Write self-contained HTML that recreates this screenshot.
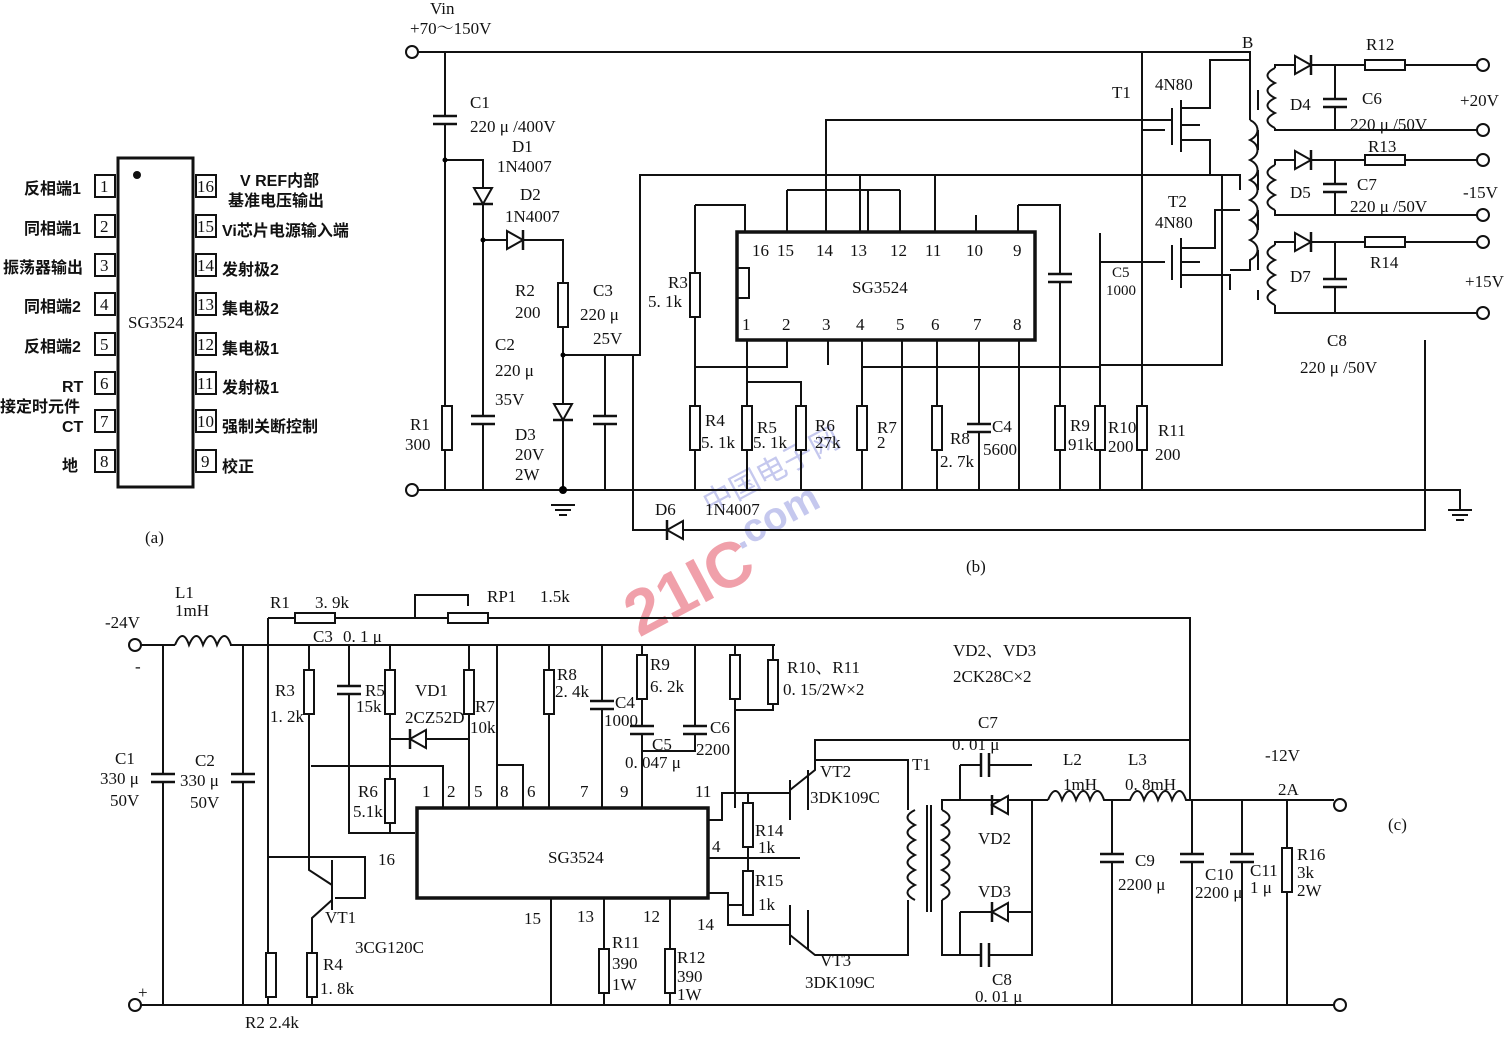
<!DOCTYPE html>
<html><head><meta charset="utf-8"><style>
html,body{margin:0;padding:0;background:#fff}
svg{display:block}
text{font-family:"Liberation Serif","Noto Serif CJK SC",serif;font-size:17px;fill:#111}
.c{font-family:"Liberation Sans","Noto Sans CJK SC",sans-serif;font-size:16px;font-weight:bold}
</style></head><body>
<svg width="1507" height="1046" viewBox="0 0 1507 1046" xmlns="http://www.w3.org/2000/svg">
<defs>
<g id="rv"><rect x="-5" y="-22" width="10" height="44" fill="#fff" stroke="#111" stroke-width="2"/></g>
<g id="rh"><rect x="-20" y="-5" width="40" height="10" fill="#fff" stroke="#111" stroke-width="2"/></g>
<g id="cv"><rect x="-12" y="-5" width="24" height="10" fill="#fff" stroke="none"/><line x1="-12" y1="-4" x2="12" y2="-4" stroke="#111" stroke-width="2.5"/><line x1="-12" y1="4" x2="12" y2="4" stroke="#111" stroke-width="2.5"/></g>
<g id="ch"><rect x="-5" y="-12" width="10" height="24" fill="#fff"/><line x1="-4" y1="-12" x2="-4" y2="12" stroke="#111" stroke-width="2.5"/><line x1="4" y1="-12" x2="4" y2="12" stroke="#111" stroke-width="2.5"/></g>
<g id="dd"><polygon points="-9,-8 9,-8 0,8" fill="#fff" stroke="#111" stroke-width="2"/><line x1="-10" y1="8" x2="10" y2="8" stroke="#111" stroke-width="2.5"/></g>
<g id="dr"><polygon points="-8,-9 -8,9 8,0" fill="#fff" stroke="#111" stroke-width="2"/><line x1="8" y1="-10" x2="8" y2="10" stroke="#111" stroke-width="2.5"/></g>
<g id="dl"><polygon points="8,-9 8,9 -8,0" fill="#fff" stroke="#111" stroke-width="2"/><line x1="-8" y1="-10" x2="-8" y2="10" stroke="#111" stroke-width="2.5"/></g>
<g id="gnd"><line x1="-12" y1="0" x2="12" y2="0" stroke="#111" stroke-width="2"/><line x1="-8" y1="5" x2="8" y2="5" stroke="#111" stroke-width="2"/><line x1="-4" y1="10" x2="4" y2="10" stroke="#111" stroke-width="2"/></g>
</defs>
<rect width="1507" height="1046" fill="#fff"/>

<!-- watermark -->
<g transform="rotate(-28 700 560)">
<text x="610" y="600" style="font-size:64px;font-weight:bold;fill:#f0a0aa;font-family:'Liberation Sans',sans-serif">21IC</text>
<text x="740" y="570" style="font-size:40px;font-weight:bold;fill:#c5c8ee;font-family:'Liberation Sans',sans-serif">.com</text>
<text x="730" y="525" style="font-size:30px;fill:#c5c8ee;font-family:'Noto Sans CJK SC',sans-serif">中国电子网</text>
</g>

<!-- (a) -->
<g stroke="#111" stroke-width="2" fill="none">
<rect x="118" y="158" width="75" height="329" stroke-width="3"/>
<rect x="95" y="175" width="20" height="22"/><rect x="95" y="215" width="20" height="22"/><rect x="95" y="254" width="20" height="22"/><rect x="95" y="293" width="20" height="22"/>
<rect x="95" y="333" width="20" height="22"/><rect x="95" y="372" width="20" height="22"/><rect x="95" y="410" width="20" height="22"/><rect x="95" y="450" width="20" height="22"/>
<rect x="196" y="175" width="20" height="22"/><rect x="196" y="215" width="20" height="22"/><rect x="196" y="254" width="20" height="22"/><rect x="196" y="293" width="20" height="22"/>
<rect x="196" y="333" width="20" height="22"/><rect x="196" y="372" width="20" height="22"/><rect x="196" y="410" width="20" height="22"/><rect x="196" y="450" width="20" height="22"/>
</g>
<circle cx="137" cy="175" r="4" fill="#111"/>
<g>
<text x="100" y="192">1</text><text x="100" y="232">2</text><text x="100" y="271">3</text><text x="100" y="310">4</text><text x="100" y="350">5</text><text x="100" y="389">6</text><text x="100" y="427">7</text><text x="100" y="467">8</text>
<text x="197" y="192">16</text><text x="197" y="232">15</text><text x="197" y="271">14</text><text x="197" y="310">13</text><text x="197" y="350">12</text><text x="197" y="389">11</text><text x="197" y="427">10</text><text x="201" y="467">9</text>
</g>
<text x="128" y="328">SG3524</text>
<text class="c" x="24" y="194">反相端1</text><text class="c" x="24" y="234">同相端1</text><text class="c" x="3" y="273">振荡器输出</text><text class="c" x="24" y="312">同相端2</text><text class="c" x="24" y="352">反相端2</text>
<text class="c" x="62" y="392">RT</text><text class="c" x="0" y="412">接定时元件</text><text class="c" x="62" y="432">CT</text><text class="c" x="62" y="471">地</text>
<text class="c" x="240" y="186">V REF内部</text><text class="c" x="228" y="206">基准电压输出</text><text class="c" x="222" y="236">Vi芯片电源输入端</text><text class="c" x="222" y="275">发射极2</text>
<text class="c" x="222" y="314">集电极2</text><text class="c" x="222" y="354">集电极1</text><text class="c" x="222" y="393">发射极1</text><text class="c" x="222" y="432">强制关断控制</text><text class="c" x="222" y="472">校正</text>
<text x="145" y="543">(a)</text>

<!-- (b) -->
<g stroke="#111" stroke-width="2" fill="none">
<circle cx="412" cy="52" r="6"/><circle cx="412" cy="490" r="6"/>
<path d="M418 52H1250V120"/>
<path d="M418 490H1460V510"/>
<path d="M445 52V490M445 160H483V240M483 240V490M483 240H563V490M563 355H640V175H1222V365H1100V233M605 355V490"/>
<path d="M633 355V530H1425V340"/>
<rect x="737" y="232" width="298" height="108" stroke-width="3.5"/>
<rect x="737" y="268" width="12" height="30"/>
<path d="M695 205H745V232M695 205V490M787 190V232M787 190H868V232M826 232V120H1172M860 175V232M900 190V232M900 190H868M1018 205H1060V490M1018 205V232M976 215V232M935 175V232"/>
<path d="M747 340V490M747 382H801V490M787 340V367H695M828 340V365M862 340V490M862 367H1100M902 340V490M937 340V490M979 340V490M1019 340V490M1100 365V490M1142 52V490M1060 270V287"/>
<path d="M1100 262H1165M1142 130H1165"/>
<path d="M1172 108V145M1181 100V152M1181 108H1210V60H1250M1181 140H1210V175H1240V190M1181 125H1200"/>
<path d="M1172 245V280M1181 238V288M1181 248H1215V210H1240M1181 275H1230V290M1181 262H1200"/>
<path d="M1250 120c10 5 10 15 0 20c10 5 10 15 0 20c10 5 10 15 0 20c10 5 10 15 0 20c10 5 10 15 0 20c10 5 10 15 0 20c10 5 10 15 0 20V270H1230"/>
<path d="M1258 90V110M1258 130V150M1258 170V190M1258 210V230M1258 250V270M1258 290V300"/>
<path d="M1275 68c-10 5-10 10 0 15c-10 5-10 10 0 15c-10 5-10 10 0 15c-10 5-10 10 0 15M1275 68V65H1483M1275 128V130H1483"/>
<path d="M1275 165c-10 5-10 10 0 15c-10 5-10 10 0 15c-10 5-10 10 0 15M1275 165V160H1483M1275 210V215H1483"/>
<path d="M1275 245c-10 5-10 10 0 15c-10 5-10 10 0 15c-10 5-10 10 0 15c-10 5-10 10 0 15M1275 245V242H1483M1275 305V313H1483"/>
<path d="M1335 65V130M1335 160V215M1335 242V313"/>
<circle cx="1483" cy="65" r="6" fill="#fff"/><circle cx="1483" cy="130" r="6" fill="#fff"/><circle cx="1483" cy="160" r="6" fill="#fff"/><circle cx="1483" cy="215" r="6" fill="#fff"/><circle cx="1483" cy="242" r="6" fill="#fff"/><circle cx="1483" cy="313" r="6" fill="#fff"/>
</g>
<use href="#cv" x="445" y="120"/><use href="#rv" x="447" y="428"/><use href="#dd" x="483" y="196"/><use href="#dr" x="515" y="240"/>
<use href="#rv" x="563" y="305"/><use href="#cv" x="483" y="420"/><use href="#cv" x="605" y="420"/><use href="#dd" x="563" y="412"/>
<use href="#gnd" x="563" y="505"/><use href="#gnd" x="1460" y="510"/>
<use href="#rv" x="695" y="295"/><use href="#rv" x="695" y="428"/><use href="#rv" x="747" y="428"/><use href="#rv" x="801" y="428"/><use href="#rv" x="862" y="428"/>
<use href="#rv" x="937" y="428"/><use href="#cv" x="979" y="428"/><use href="#cv" x="1060" y="278"/><use href="#rv" x="1060" y="428"/><use href="#rv" x="1100" y="428"/><use href="#rv" x="1142" y="428"/>
<use href="#dl" x="675" y="530"/>
<use href="#dr" x="1303" y="65"/><use href="#rh" x="1385" y="65"/><use href="#cv" x="1335" y="103"/>
<use href="#dr" x="1303" y="160"/><use href="#rh" x="1385" y="160"/><use href="#cv" x="1335" y="188"/>
<use href="#dr" x="1303" y="242"/><use href="#rh" x="1385" y="242"/><use href="#cv" x="1335" y="283"/>
<circle cx="445" cy="160" r="2.5"/><circle cx="483" cy="240" r="2.5"/><circle cx="563" cy="355" r="2.5"/><circle cx="563" cy="490" r="4"/>
<g>
<text x="752" y="256">16</text><text x="777" y="256">15</text><text x="816" y="256">14</text><text x="850" y="256">13</text><text x="890" y="256">12</text><text x="925" y="256">11</text><text x="966" y="256">10</text><text x="1013" y="256">9</text>
<text x="742" y="330">1</text><text x="782" y="330">2</text><text x="822" y="330">3</text><text x="856" y="330">4</text><text x="896" y="330">5</text><text x="931" y="330">6</text><text x="973" y="330">7</text><text x="1013" y="330">8</text>
<text x="852" y="293">SG3524</text>
</g>
<text x="430" y="14">Vin</text><text x="410" y="34">+70～150V</text>
<text x="470" y="108">C1</text><text x="470" y="132">220 μ /400V</text>
<text x="512" y="152">D1</text><text x="497" y="172">1N4007</text><text x="520" y="200">D2</text><text x="505" y="222">1N4007</text>
<text x="515" y="296">R2</text><text x="515" y="318">200</text><text x="593" y="296">C3</text><text x="580" y="320">220 μ</text><text x="593" y="344">25V</text>
<text x="495" y="350">C2</text><text x="495" y="376">220 μ</text><text x="495" y="405">35V</text>
<text x="515" y="440">D3</text><text x="515" y="460">20V</text><text x="515" y="480">2W</text>
<text x="410" y="430">R1</text><text x="405" y="450">300</text>
<text x="668" y="288">R3</text><text x="648" y="307">5. 1k</text>
<text x="705" y="426">R4</text><text x="701" y="448">5. 1k</text><text x="757" y="433">R5</text><text x="753" y="448">5. 1k</text><text x="815" y="431">R6</text><text x="815" y="448">27k</text>
<text x="877" y="433">R7</text><text x="877" y="448">2</text><text x="950" y="444">R8</text><text x="940" y="467">2. 7k</text><text x="992" y="432">C4</text><text x="983" y="455">5600</text>
<text x="1070" y="431">R9</text><text x="1068" y="450">91k</text><text x="1108" y="433">R10</text><text x="1108" y="452">200</text><text x="1158" y="436">R11</text><text x="1155" y="460">200</text>
<text x="1112" y="277" style="font-size:15px">C5</text><text x="1106" y="295" style="font-size:15px">1000</text>
<text x="1112" y="98">T1</text><text x="1155" y="90">4N80</text><text x="1168" y="207">T2</text><text x="1155" y="228">4N80</text><text x="1242" y="48">B</text>
<text x="1366" y="50">R12</text><text x="1290" y="110">D4</text><text x="1362" y="104">C6</text><text x="1350" y="130">220 μ /50V</text><text x="1460" y="106">+20V</text>
<text x="1368" y="152">R13</text><text x="1290" y="198">D5</text><text x="1357" y="190">C7</text><text x="1350" y="212">220 μ /50V</text><text x="1463" y="198">-15V</text>
<text x="1370" y="268">R14</text><text x="1290" y="282">D7</text><text x="1465" y="287">+15V</text><text x="1327" y="346">C8</text><text x="1300" y="373">220 μ /50V</text>
<text x="655" y="515">D6</text><text x="705" y="515">1N4007</text><text x="966" y="572">(b)</text>

<!-- (c) -->
<g stroke="#111" stroke-width="2" fill="none">
<circle cx="135" cy="645" r="6"/><circle cx="135" cy="1005" r="6"/>
<path d="M141 645H175M230 645H775M175 645c5-12 10-12 14 0c5-12 10-12 14 0c5-12 10-12 14 0c5-12 10-12 14 0"/>
<path d="M268 618H1190V800M268 618V1005M415 618V595H468V606"/>
<path d="M141 1005H1334"/><circle cx="1340" cy="1005" r="6"/>
<path d="M163 645V1005M243 645V1005"/>
<path d="M309 645V870L332 885M332 900L312 918V1005M332 860V910M268 857H365V898H335"/>
<path d="M349 645V833H415M390 645V833M390 739H469M469 645V808M497 645V808M497 765H523V808M311 766H443V808M549 645V808M602 645V808M642 645V808M642 751H695V645M735 645V808M773 645V710H735"/>
<rect x="417" y="808" width="291" height="90" stroke-width="3.5"/>
<path d="M551 898V1005M604 898V1005M670 898V1005"/>
<path d="M708 820H722V793H748V905H728M708 858H800M708 893H728V925H790M748 793H790M790 780V820M790 905V945M790 790L815 770V760H908V810M790 935L815 955H908V900M815 760V740H1190"/>
<path d="M915 810c-10 5-10 10 0 15c-10 5-10 10 0 15c-10 5-10 10 0 15c-10 5-10 10 0 15c-10 5-10 10 0 15c-10 5-10 10 0 15"/>
<path d="M927 805V912M931 805V912"/>
<path d="M942 810c10 5 10 10 0 15c10 5 10 10 0 15c10 5 10 10 0 15c10 5 10 10 0 15c10 5 10 10 0 15c10 5 10 10 0 15"/>
<path d="M942 810V800H1048M942 900V955H1032V800M960 765V800M960 765H1032M960 912V955M960 955H1032M960 912H1032"/>
<path d="M1048 800c5-12 10-12 14 0c5-12 10-12 14 0c5-12 10-12 14 0c5-12 10-12 14 0H1130c5-12 10-12 14 0c5-12 10-12 14 0c5-12 10-12 14 0c5-12 10-12 14 0H1334"/>
<circle cx="1340" cy="805" r="6"/>
<path d="M1112 800V1005M1192 800V1005M1242 800V1005M1287 800V1005"/>
</g>
<use href="#rh" x="315" y="618"/><use href="#rh" x="468" y="618"/>
<use href="#cv" x="163" y="778"/><use href="#cv" x="243" y="778"/>
<use href="#rv" x="309" y="692"/><use href="#cv" x="349" y="690"/><use href="#rv" x="390" y="692"/><use href="#dl" x="418" y="739"/><use href="#rv" x="390" y="801"/>
<use href="#rv" x="469" y="692"/><use href="#rv" x="549" y="692"/><use href="#cv" x="602" y="705"/><use href="#rv" x="642" y="677"/><use href="#cv" x="642" y="730"/><use href="#cv" x="695" y="730"/>
<use href="#rv" x="735" y="677"/><use href="#rv" x="773" y="682"/>
<use href="#rv" x="271" y="975"/><use href="#rv" x="312" y="975"/><use href="#rv" x="604" y="971"/><use href="#rv" x="670" y="971"/>
<use href="#rv" x="748" y="825"/><use href="#rv" x="748" y="893"/>
<use href="#ch" x="985" y="765"/><use href="#dl" x="1000" y="805"/><use href="#dl" x="1000" y="912"/><use href="#ch" x="985" y="955"/>
<use href="#cv" x="1112" y="858"/><use href="#cv" x="1192" y="858"/><use href="#cv" x="1242" y="858"/><use href="#rv" x="1287" y="870"/>
<g stroke="#111" stroke-width="2"><line x1="808" y1="770" x2="808" y2="810"/><line x1="808" y1="910" x2="808" y2="950"/></g>
<text x="422" y="797">1</text><text x="447" y="797">2</text><text x="474" y="797">5</text><text x="500" y="797">8</text><text x="527" y="797">6</text><text x="580" y="797">7</text><text x="620" y="797">9</text><text x="695" y="797">11</text>
<text x="378" y="865">16</text><text x="712" y="852">4</text><text x="524" y="924">15</text><text x="577" y="922">13</text><text x="643" y="922">12</text><text x="697" y="930">14</text>
<text x="548" y="863">SG3524</text>
<text x="175" y="598">L1</text><text x="175" y="616">1mH</text><text x="105" y="628">-24V</text><text x="135" y="672">-</text><text x="138" y="998">+</text>
<text x="270" y="608">R1</text><text x="315" y="608">3. 9k</text><text x="487" y="602">RP1</text><text x="540" y="602">1.5k</text>
<text x="313" y="642">C3</text><text x="343" y="642">0. 1 μ</text>
<text x="275" y="696">R3</text><text x="270" y="722">1. 2k</text><text x="365" y="696">R5</text><text x="356" y="712">15k</text><text x="415" y="696">VD1</text><text x="405" y="723">2CZ52D</text>
<text x="475" y="712">R7</text><text x="470" y="733">10k</text><text x="358" y="797">R6</text><text x="353" y="817">5.1k</text>
<text x="557" y="680">R8</text><text x="555" y="697">2. 4k</text><text x="615" y="708">C4</text><text x="604" y="726">1000</text>
<text x="650" y="670">R9</text><text x="650" y="692">6. 2k</text><text x="652" y="750">C5</text><text x="625" y="768">0. 047 μ</text><text x="710" y="733">C6</text><text x="696" y="755">2200</text>
<text x="787" y="673">R10、R11</text><text x="783" y="695">0. 15/2W×2</text>
<text x="115" y="764">C1</text><text x="100" y="784">330 μ</text><text x="110" y="806">50V</text><text x="195" y="766">C2</text><text x="180" y="786">330 μ</text><text x="190" y="808">50V</text>
<text x="325" y="923">VT1</text><text x="355" y="953">3CG120C</text><text x="323" y="970">R4</text><text x="320" y="994">1. 8k</text><text x="245" y="1028">R2  2.4k</text>
<text x="612" y="948">R11</text><text x="612" y="969">390</text><text x="612" y="990">1W</text><text x="677" y="963">R12</text><text x="677" y="982">390</text><text x="677" y="1000">1W</text>
<text x="755" y="836">R14</text><text x="758" y="853">1k</text><text x="755" y="886">R15</text><text x="758" y="910">1k</text>
<text x="820" y="777">VT2</text><text x="810" y="803">3DK109C</text><text x="820" y="966">VT3</text><text x="805" y="988">3DK109C</text>
<text x="912" y="770">T1</text><text x="978" y="728">C7</text><text x="952" y="750">0. 01 μ</text><text x="978" y="844">VD2</text><text x="978" y="897">VD3</text><text x="992" y="985">C8</text><text x="975" y="1002">0. 01 μ</text>
<text x="953" y="656">VD2、VD3</text><text x="953" y="682">2CK28C×2</text>
<text x="1063" y="765">L2</text><text x="1063" y="790">1mH</text><text x="1128" y="765">L3</text><text x="1125" y="790">0. 8mH</text>
<text x="1265" y="761">-12V</text><text x="1278" y="795">2A</text>
<text x="1135" y="866">C9</text><text x="1118" y="890">2200 μ</text><text x="1205" y="880">C10</text><text x="1195" y="898">2200 μ</text><text x="1250" y="876">C11</text><text x="1250" y="893">1 μ</text>
<text x="1297" y="860">R16</text><text x="1297" y="878">3k</text><text x="1297" y="896">2W</text><text x="1388" y="830">(c)</text>
</svg>
</body></html>
